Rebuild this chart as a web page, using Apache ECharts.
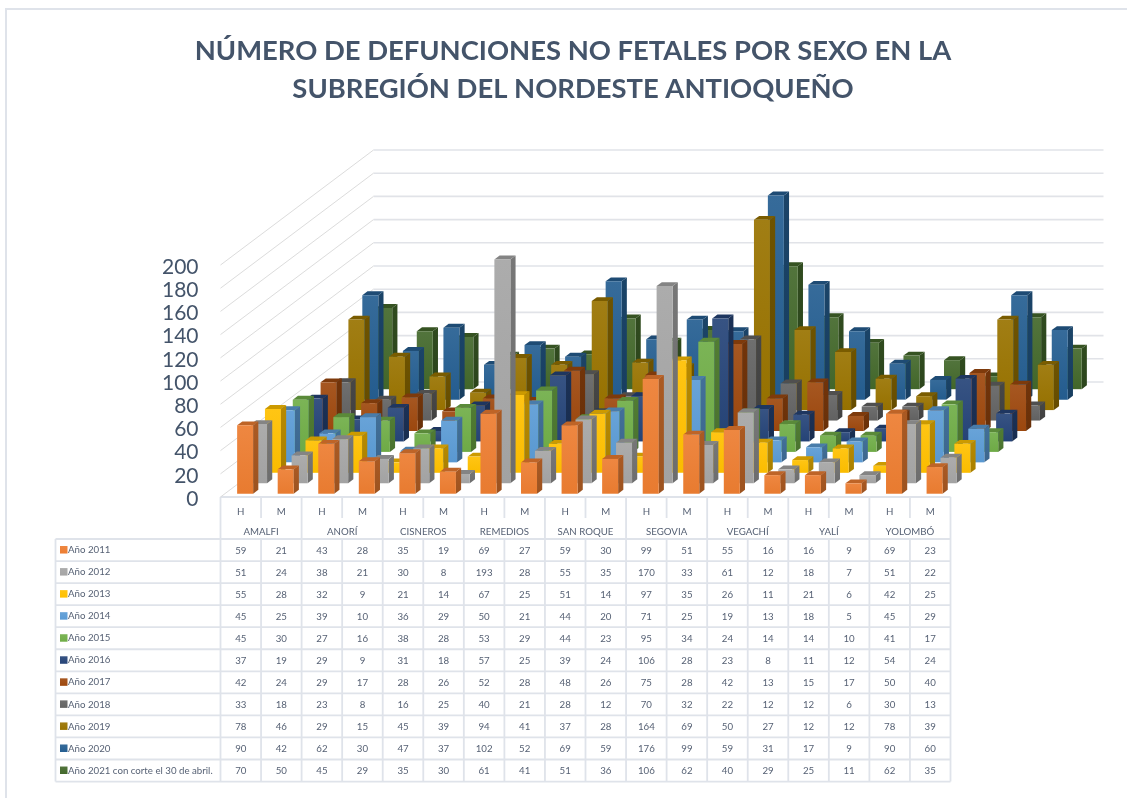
<!DOCTYPE html>
<html><head><meta charset="utf-8">
<style>html,body{margin:0;padding:0;background:#fff}#c{width:1127px;height:798px}</style>
<script src="https://cdn.jsdelivr.net/npm/echarts@6/dist/echarts.min.js"></script>
</head><body><div id="c"></div>
<script>
const municipios = ['AMALFI','ANORÍ','CISNEROS','REMEDIOS','SAN ROQUE','SEGOVIA','VEGACHÍ','YALÍ','YOLOMBÓ'];
const sexos = ['H','M','H','M','H','M','H','M','H','M','H','M','H','M','H','M','H','M'];
const yTicks = [0,20,40,60,80,100,120,140,160,180,200];
const anios = ['Año 2011','Año 2012','Año 2013','Año 2014','Año 2015','Año 2016','Año 2017','Año 2018','Año 2019','Año 2020','Año 2021 con corte el 30 de abril.'];
const colores = ['#ed7d31','#a5a5a5','#ffc000','#5b9bd5','#70ad47','#264478','#9e480e','#636363','#997300','#255e91','#43682b'];
const a2011 = [59,21,43,28,35,19,69,27,59,30,99,51,55,16,16,9,69,23];
const a2012 = [51,24,38,21,30,8,193,28,55,35,170,33,61,12,18,7,51,22];
const a2013 = [55,28,32,9,21,14,67,25,51,14,97,35,26,11,21,6,42,25];
const a2014 = [45,25,39,10,36,29,50,21,44,20,71,25,19,13,18,5,45,29];
const a2015 = [45,30,27,16,38,28,53,29,44,23,95,34,24,14,14,10,41,17];
const a2016 = [37,19,29,9,31,18,57,25,39,24,106,28,23,8,11,12,54,24];
const a2017 = [42,24,29,17,28,26,52,28,48,26,75,28,42,13,15,17,50,40];
const a2018 = [33,18,23,8,16,25,40,21,28,12,70,32,22,12,12,6,30,13];
const a2019 = [78,46,29,15,45,39,94,41,37,28,164,69,50,27,12,12,78,39];
const a2020 = [90,42,62,30,47,37,102,52,69,59,176,99,59,31,17,9,90,60];
const a2021 = [70,50,45,29,35,30,61,41,51,36,106,62,40,29,25,11,62,35];
const valores = [a2011,a2012,a2013,a2014,a2015,a2016,a2017,a2018,a2019,a2020,a2021];

// oblique projection of the third axis
const G = {left:220.5, top:265, width:730, height:232};
const wallDX = 153, wallDY = -115, rows = anios.length;
const stepX = wallDX/rows, stepY = wallDY/rows;
const barDX = 5.2, barDY = -3.9, barW = 16;

function shade(hex,f){
  const n=parseInt(hex.slice(1),16);
  const ch=s=>{let c=(n>>s)&255; c = f<=1 ? c*f : c+(255-c)*(f-1); return Math.round(c);};
  return 'rgb('+ch(16)+','+ch(8)+','+ch(0)+')';
}
const vgrad=(a,b)=>new echarts.graphic.LinearGradient(0,0,0,1,[{offset:0,color:a},{offset:1,color:b}]);

function renderBar(k){
  return function(params,api){
    const c = api.coord([api.value(0),api.value(1)]);
    const b = api.coord([api.value(0),0]);
    const ox = (k+0.5)*stepX - barDX/2, oy = (k+0.5)*stepY - barDY/2;
    const x0 = c[0]-barW/2+ox, x1 = x0+barW, yt = c[1]+oy, yb = b[1]+oy;
    const col = colores[k];
    return {type:'group',children:[
      {type:'polygon',shape:{points:[[x1,yb],[x1+barDX,yb+barDY],[x1+barDX,yt+barDY],[x1,yt]]},
       style:{fill:vgrad(shade(col,0.72),shade(col,0.66))}},
      {type:'polygon',shape:{points:[[x0,yt],[x1,yt],[x1+barDX,yt+barDY],[x0+barDX,yt+barDY]]},
       style:{fill:shade(col,0.8)}},
      {type:'rect',shape:{x:x0,y:yt,width:barW,height:yb-yt},
       style:{fill:vgrad(shade(col,1.08),shade(col,0.98))}}
    ]};
  };
}

function renderWall(params,api){
  const v = api.value(0), y = api.coord([0,v])[1];
  const xl = params.coordSys.x, xr = xl+params.coordSys.width;
  return {type:'group',children:[
    {type:'line',shape:{x1:xl,y1:y,x2:xl+wallDX,y2:y+wallDY},style:{stroke:'#dcdcdc',lineWidth:1}},
    {type:'line',shape:{x1:xl+wallDX,y1:y+wallDY,x2:xr+wallDX,y2:y+wallDY},style:{stroke:'#e1e3e8',lineWidth:1.6}}
  ]};
}

const seriesList = [{type:'custom',name:'rejilla',silent:true,renderItem:renderWall,data:yTicks.map(v=>[v]),encode:{y:0},z:1}];
for(let k=rows-1;k>=0;k--){
  seriesList.push({type:'custom',name:anios[k],renderItem:renderBar(k),
    data:valores[k].map((v,i)=>[i,v]),encode:{x:0,y:1},z:2});
}

// data table
const LINE='#dfe3ea', TXT='#566174', FONT='Lato';
const colW = G.width/18, tX = 55.5, tY0 = 539, rowH = 22.05;
const gr = [];
const ln=(x1,y1,x2,y2)=>gr.push({type:'line',silent:true,shape:{x1,y1,x2,y2},style:{stroke:LINE,lineWidth:1.8}});
const tx=(t,x,y,align)=>gr.push({type:'text',silent:true,x,y,style:{text:t,fill:TXT,font:'9.7px '+FONT,textAlign:align||'center',textVerticalAlign:'middle'}});
gr.push({type:'line',silent:true,shape:{x1:6,y1:798,x2:6,y2:9},style:{stroke:LINE,lineWidth:2}});
gr.push({type:'line',silent:true,shape:{x1:5,y1:9,x2:1127,y2:9},style:{stroke:LINE,lineWidth:2}});
ln(G.left,497,G.left+G.width,497);
for(let r=0;r<=rows;r++) ln(tX,tY0+r*rowH,G.left+G.width,tY0+r*rowH);
ln(tX,tY0,tX,tY0+rows*rowH);
for(let i=0;i<=18;i++){
  const x=G.left+i*colW;
  ln(x,i%2===0?497:tY0,x,tY0+rows*rowH);
  if(i%2===1) ln(x,497,x,518);
}
municipios.forEach((m,i)=>tx(m,G.left+(i+0.5)*2*colW,532));
anios.forEach((a,r)=>{
  const y=tY0+(r+0.5)*rowH;
  gr.push({type:'rect',silent:true,shape:{x:60,y:y-4,width:7.5,height:7.5},style:{fill:vgrad(shade(colores[r],1.08),colores[r])}});
  tx(a,68,y,'left');
  valores[r].forEach((v,i)=>tx(String(v),G.left+(i+0.5)*colW,y+0.5));
});

const chart = echarts.init(document.getElementById('c'),null,{renderer:'canvas'});
chart.setOption({
  animation:false,
  backgroundColor:'#fff',
  title:{text:'NÚMERO DE DEFUNCIONES NO FETALES POR SEXO EN LA\nSUBREGIÓN DEL NORDESTE ANTIOQUEÑO',
    left:568,top:27,textAlign:'center',
    textStyle:{fontFamily:FONT,fontWeight:'bold',fontSize:27.4,lineHeight:38,color:'#44546a'}},
  grid:{left:G.left,top:G.top,width:G.width,height:G.height},
  tooltip:{show:false},
  xAxis:{type:'category',data:sexos,axisLine:{show:false},axisTick:{show:false},
    axisLabel:{interval:0,margin:10,fontFamily:FONT,fontSize:9.7,color:TXT}},
  yAxis:{type:'value',min:0,max:200,interval:20,splitLine:{show:false},axisLine:{show:false},axisTick:{show:false},
    axisLabel:{margin:22,showMinLabel:true,showMaxLabel:true,fontFamily:FONT,fontSize:21,lineHeight:4,verticalAlign:'top',color:'#44546a'}},
  series:seriesList,
  graphic:{elements:gr}
});
</script></body></html>
